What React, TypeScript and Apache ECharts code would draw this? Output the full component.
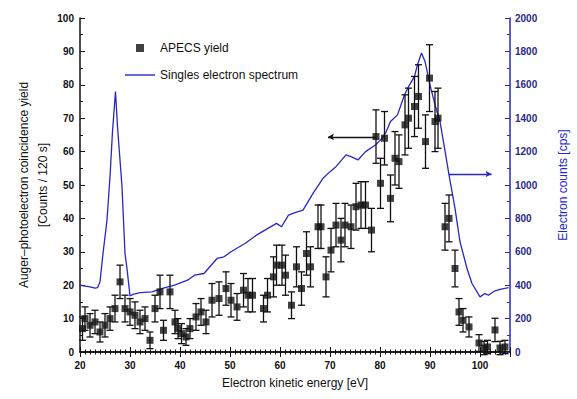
import React, { useEffect, useRef } from "react";
import * as echarts from "echarts";

// APECS yield: [kinetic energy (eV), counts / 120 s, error]
const apecsEnergy = [20.5, 21, 22, 23, 24, 25, 26, 27, 28, 29, 30, 31, 32, 33, 34, 35, 36, 36.7, 38, 39, 39.6, 40.3, 41.2, 42, 43.2, 44.2, 45.2, 46.4, 47.8, 49.2, 50.2, 51.4, 52.7, 53.6, 54.5, 56.7, 57.5, 58.7, 59.3, 60.4, 61.1, 62.3, 63.3, 64.3, 65.3, 66.1, 67.6, 68.2, 69.2, 70.2, 71.2, 72.2, 73, 74.2, 75.2, 76.2, 77.1, 78.3, 79.2, 80.1, 80.9, 82.1, 83, 83.8, 85, 85.7, 86.9, 87.7, 89.1, 89.9, 91, 91.6, 93, 93.8, 95, 95.8, 96.6, 97.8, 99.8, 100.8, 101.5, 103, 104, 105];
const apecsYield = [7, 10, 8, 9, 6, 8, 10, 13, 21, 13, 12, 11, 9, 10, 3.5, 13, 18, 6.5, 18, 9, 7, 5.5, 4.5, 7, 10.5, 12, 9, 15.5, 16, 19, 15.5, 13.5, 18.5, 17, 17, 13, 17, 22.5, 26, 26, 23, 14, 25.5, 19, 29.5, 25.5, 37.5, 37.5, 22.5, 30.5, 38, 33.5, 38, 37.5, 43.5, 44, 44, 36.5, 64.5, 50.5, 64, 46, 58, 57, 68, 70, 73.5, 76.5, 63, 82, 69, 70, 37.5, 40, 25, 12, 9.5, 7.5, 2.7, 1.2, 1.5, 6.6, 1.2, 1.5];
const apecsError = [3.5, 3.5, 3.5, 3.5, 3, 3.5, 3.5, 4, 5, 4, 4, 4, 3.5, 3.5, 2.5, 4, 5, 3, 5, 3.5, 3, 3, 2.5, 3, 4, 4, 3.5, 5, 5, 5, 5, 4, 5, 5, 5, 4, 5, 6, 6, 6, 6, 4, 6, 5, 6.5, 6, 6.5, 6.5, 6, 6.5, 6.5, 6.5, 6.5, 6.5, 7, 7, 7, 6.5, 8, 7.5, 8, 7, 8, 8, 9, 9, 9, 9.5, 8, 10, 9, 9, 7, 7, 5.5, 4, 3.5, 3, 2.5, 2, 2, 3.5, 2, 2];

// Singles electron spectrum: [kinetic energy (eV), electron counts (cps)]
const singlesEnergy = [20, 21, 22, 23, 23.5, 24, 24.6, 25.4, 26, 26.5, 27.1, 27.5, 28, 28.4, 29, 29.4, 30, 30.6, 32, 34.4, 36.3, 38.9, 41.5, 42.9, 44.8, 47.4, 48.8, 50.2, 51.3, 53, 55.3, 57, 59.3, 60.3, 61.7, 63, 64.6, 66.6, 68.6, 70, 71.2, 73.2, 74.2, 75.6, 77.1, 79.1, 80.1, 81.1, 82.1, 83.5, 84.9, 85.9, 86.9, 87.5, 88.3, 89, 90, 91, 92, 92.8, 93.8, 95, 96, 97.4, 98.4, 100, 101, 101.7, 102.9, 104, 105.7];
const singlesCounts = [400, 395, 390, 383, 385, 420, 590, 790, 1050, 1320, 1560, 1350, 1150, 990, 590, 500, 335, 345, 355, 360, 380, 400, 430, 460, 470, 560, 570, 600, 620, 650, 700, 730, 770, 750, 820, 835, 850, 950, 1040, 1080, 1110, 1180, 1170, 1150, 1200, 1240, 1270, 1310, 1380, 1420, 1540, 1600, 1650, 1720, 1790, 1740, 1600, 1480, 1380, 1240, 1060, 860, 660, 500, 410, 330, 350, 340, 365, 375, 385];

const xTicks = [20, 30, 40, 50, 60, 70, 80, 90, 100];

// Arrows indicating which axis each curve belongs to
const blackArrow = { from: [79.2, 64.4], to: [69.6, 64.4] };
const blueArrow = { from: [93.8, 1066], to: [102.3, 1066] };

const BLUE = "#2727c8";
const FONT = "Liberation Sans";

export default function App() {
  const ref = useRef<HTMLDivElement>(null);
  useEffect(() => {
    if (!ref.current) return;
    const chart = echarts.init(ref.current, null, { renderer: "svg" });
    const scatterData = apecsEnergy.map((x, i) => [x, apecsYield[i]]);
    const errData = apecsEnergy.map((x, i) => [x, apecsYield[i] - apecsError[i], apecsYield[i] + apecsError[i]]);
    const lineData = singlesEnergy.map((x, i) => [x, singlesCounts[i]]);
    const tickLabel = { fontSize: 10, fontWeight: "bold" as const, fontFamily: FONT, color: "#111" };

    chart.setOption({
      animation: false,
      backgroundColor: "#fff",
      textStyle: { fontFamily: FONT },
      grid: { left: 80, right: 64, top: 18, bottom: 47 },
      legend: {
        orient: "vertical",
        left: 120,
        top: 37,
        itemWidth: 30,
        itemHeight: 8,
        itemGap: 15,
        symbolKeepAspect: true,
        textStyle: { fontSize: 12, fontFamily: FONT, color: "#111" },
        data: [
          { name: "APECS yield", icon: "path://M0,0h8v8h-8z" },
          { name: "Singles electron spectrum", icon: "path://M0,0h30v1.4h-30z" },
        ],
      },
      xAxis: [
        {
          type: "value",
          min: 20,
          max: 106,
          interval: 10,
          name: "Electron kinetic energy [eV]",
          nameLocation: "middle",
          nameGap: 25,
          nameTextStyle: { fontSize: 12, fontFamily: FONT, color: "#111" },
          axisLine: { lineStyle: { color: "#111", width: 1.5 } },
          axisTick: { inside: true, length: 5, lineStyle: { color: "#111" } },
          minorTick: { show: true, splitNumber: 10, length: 2.5, lineStyle: { color: "#111" } },
          splitLine: { show: false },
          axisLabel: {
            ...tickLabel,
            margin: 8,
            formatter: (v: number) => (xTicks.includes(v) ? String(v) : ""),
          },
        },
        {
          type: "value",
          position: "top",
          min: 20,
          max: 106,
          interval: 10,
          axisLine: { lineStyle: { color: "#111", width: 1.5 } },
          axisTick: { inside: true, length: 5, lineStyle: { color: "#111" } },
          minorTick: { show: true, splitNumber: 10, length: 2.5, lineStyle: { color: "#111" } },
          splitLine: { show: false },
          axisLabel: { show: false },
        },
      ],
      yAxis: [
        {
          type: "value",
          min: 0,
          max: 100,
          interval: 10,
          name: "Auger–photoelectron coincidence yield\n[Counts / 120 s]",
          nameLocation: "middle",
          nameRotate: 90,
          nameGap: 28,
          nameMoveOverlap: false,
          nameTextStyle: { fontSize: 12, fontFamily: FONT, color: "#111", lineHeight: 19 },
          axisLine: { show: true, lineStyle: { color: "#111", width: 1.5 } },
          axisTick: { inside: true, length: 5, lineStyle: { color: "#111" } },
          minorTick: { show: true, splitNumber: 2, length: 3, lineStyle: { color: "#111" } },
          splitLine: { show: false },
          axisLabel: { ...tickLabel, margin: 6 },
        },
        {
          type: "value",
          position: "right",
          min: 0,
          max: 2000,
          interval: 200,
          name: "Electron counts [cps]",
          nameLocation: "middle",
          nameRotate: 90,
          nameGap: 47,
          nameMoveOverlap: false,
          nameTextStyle: { fontSize: 12, fontFamily: FONT, color: BLUE },
          axisLine: { show: true, lineStyle: { color: BLUE, width: 1.5 } },
          axisTick: { inside: true, length: 5, lineStyle: { color: BLUE } },
          minorTick: { show: true, splitNumber: 2, length: 3, lineStyle: { color: BLUE } },
          splitLine: { show: false },
          axisLabel: { ...tickLabel, color: "#2a2a8a", margin: 5, formatter: (v: number) => String(v) },
        },
      ],
      series: [
        {
          name: "Singles electron spectrum",
          type: "line",
          yAxisIndex: 1,
          data: lineData,
          symbol: "none",
          lineStyle: { color: BLUE, width: 1.3 },
          itemStyle: { color: BLUE },
          z: 2,
          markLine: {
            silent: true,
            symbol: ["none", "arrow"],
            symbolSize: [5, 6],
            label: { show: false },
            lineStyle: { color: BLUE, width: 1.3, type: "solid" },
            data: [[{ coord: blueArrow.from }, { coord: blueArrow.to }]],
          },
        },
        {
          name: "errors",
          type: "custom",
          data: errData,
          z: 3,
          renderItem: (params: any, api: any) => {
            const x = api.value(0);
            const lo = api.coord([x, api.value(1)]);
            const hi = api.coord([x, api.value(2)]);
            const cap = 3.5;
            const st = { stroke: "#111", lineWidth: 1.3 };
            return {
              type: "group",
              children: [
                { type: "line", shape: { x1: lo[0], y1: lo[1], x2: hi[0], y2: hi[1] }, style: st },
                { type: "line", shape: { x1: lo[0] - cap, y1: lo[1], x2: lo[0] + cap, y2: lo[1] }, style: st },
                { type: "line", shape: { x1: hi[0] - cap, y1: hi[1], x2: hi[0] + cap, y2: hi[1] }, style: st },
              ],
            };
          },
        },
        {
          name: "APECS yield",
          type: "scatter",
          data: scatterData,
          symbol: "rect",
          symbolSize: 7,
          itemStyle: { color: "#111" },
          z: 4,
          markLine: {
            silent: true,
            symbol: ["none", "arrow"],
            symbolSize: [5, 6],
            label: { show: false },
            lineStyle: { color: "#111", width: 1.3, type: "solid" },
            data: [[{ coord: blackArrow.from }, { coord: blackArrow.to }]],
          },
        },
      ],
    });
    return () => chart.dispose();
  }, []);
  return <div ref={ref} style={{ position: "absolute", left: 0, top: 0, width: 577, height: 399 }} />;
}
